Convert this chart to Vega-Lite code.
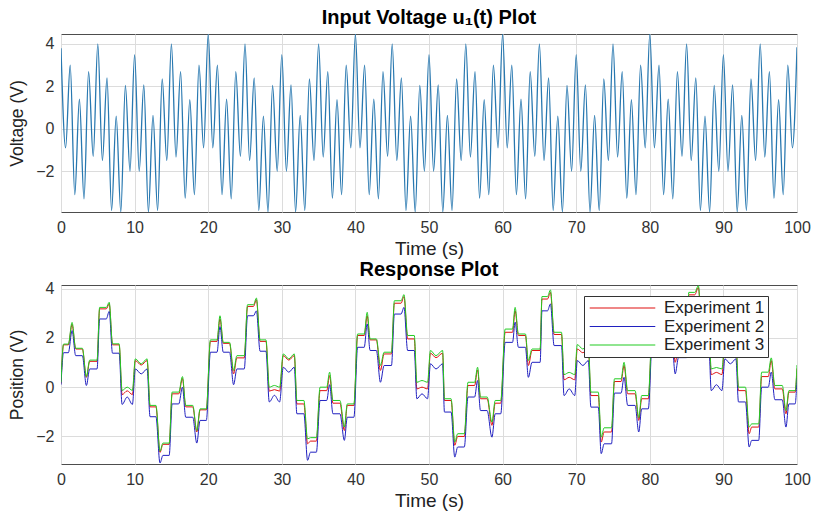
{
  "$schema": "https://vega.github.io/schema/vega-lite/v6.json",
  "background": "white",
  "padding": {"left": 8, "top": 7, "right": 16, "bottom": 0},
  "spacing": 0,
  "resolve": {"scale": {"color": "independent"}, "legend": {"color": "independent"}},
  "config": {
    "font": "Liberation Sans",
    "view": {"stroke": "#4d4d4d", "strokeWidth": 1},
    "axis": {"grid": true, "gridColor": "#dcdcdc", "domain": false, "ticks": false, "labelFontSize": 16, "labelColor": "#333333", "titleFontWeight": "normal", "titleColor": "#222222", "labelPadding": 7, "labelFlush": false},
    "axisY": {"titlePadding": 9, "titleFontSize": 17.5},
    "axisX": {"titlePadding": 4, "titleFontSize": 19},
    "title": {"fontSize": 20, "fontWeight": "bold", "color": "#000000", "offset": 6}
  },
  "vconcat": [
    {
      "width": 736,
      "height": 178,
      "title": {"text": "Input Voltage u₁(t) Plot"},
      "data": {"values": [
        {"t":0,"v":3.8},{"t":0.625,"v":-0.9},{"t":1.25,"v":3.0},{"t":1.875,"v":-3.1},{"t":2.5,"v":1.4},{"t":3.125,"v":-3.3},{"t":3.75,"v":2.7},{"t":4.375,"v":-1.3},{"t":5,"v":4.0},{"t":5.625,"v":-1.5},{"t":6.25,"v":2.4},{"t":6.875,"v":-3.85},{"t":7.5,"v":0.6},{"t":8.125,"v":-3.92},{"t":8.75,"v":2.05},{"t":9.375,"v":-2.0},{"t":10,"v":3.5},{"t":10.625,"v":-2.0},{"t":11.25,"v":2.07},{"t":11.875,"v":-3.92},{"t":12.5,"v":0.63},{"t":13.125,"v":-3.85},{"t":13.75,"v":2.35},{"t":14.375,"v":-1.5},{"t":15,"v":4.0},{"t":15.625,"v":-1.33},{"t":16.25,"v":2.7},{"t":16.875,"v":-3.27},{"t":17.5,"v":1.37},{"t":18.125,"v":-3.1},{"t":18.75,"v":3.0},{"t":19.375,"v":-0.9},
        {"t":20,"v":4.47},{"t":20.625,"v":-0.9},{"t":21.25,"v":3.0},{"t":21.875,"v":-3.1},{"t":22.5,"v":1.4},{"t":23.125,"v":-3.3},{"t":23.75,"v":2.7},{"t":24.375,"v":-1.3},{"t":25,"v":4.0},{"t":25.625,"v":-1.5},{"t":26.25,"v":2.4},{"t":26.875,"v":-3.85},{"t":27.5,"v":0.6},{"t":28.125,"v":-3.92},{"t":28.75,"v":2.05},{"t":29.375,"v":-2.0},{"t":30,"v":3.5},{"t":30.625,"v":-2.0},{"t":31.25,"v":2.07},{"t":31.875,"v":-3.92},{"t":32.5,"v":0.63},{"t":33.125,"v":-3.85},{"t":33.75,"v":2.35},{"t":34.375,"v":-1.5},{"t":35,"v":4.0},{"t":35.625,"v":-1.33},{"t":36.25,"v":2.7},{"t":36.875,"v":-3.27},{"t":37.5,"v":1.37},{"t":38.125,"v":-3.1},{"t":38.75,"v":3.0},{"t":39.375,"v":-0.9},
        {"t":40,"v":4.47},{"t":40.625,"v":-0.9},{"t":41.25,"v":3.0},{"t":41.875,"v":-3.1},{"t":42.5,"v":1.4},{"t":43.125,"v":-3.3},{"t":43.75,"v":2.7},{"t":44.375,"v":-1.3},{"t":45,"v":4.0},{"t":45.625,"v":-1.5},{"t":46.25,"v":2.4},{"t":46.875,"v":-3.85},{"t":47.5,"v":0.6},{"t":48.125,"v":-3.92},{"t":48.75,"v":2.05},{"t":49.375,"v":-2.0},{"t":50,"v":3.5},{"t":50.625,"v":-2.0},{"t":51.25,"v":2.07},{"t":51.875,"v":-3.92},{"t":52.5,"v":0.63},{"t":53.125,"v":-3.85},{"t":53.75,"v":2.35},{"t":54.375,"v":-1.5},{"t":55,"v":4.0},{"t":55.625,"v":-1.33},{"t":56.25,"v":2.7},{"t":56.875,"v":-3.27},{"t":57.5,"v":1.37},{"t":58.125,"v":-3.1},{"t":58.75,"v":3.0},{"t":59.375,"v":-0.9},
        {"t":60,"v":4.47},{"t":60.625,"v":-0.9},{"t":61.25,"v":3.0},{"t":61.875,"v":-3.1},{"t":62.5,"v":1.4},{"t":63.125,"v":-3.3},{"t":63.75,"v":2.7},{"t":64.375,"v":-1.3},{"t":65,"v":4.0},{"t":65.625,"v":-1.5},{"t":66.25,"v":2.4},{"t":66.875,"v":-3.85},{"t":67.5,"v":0.6},{"t":68.125,"v":-3.92},{"t":68.75,"v":2.05},{"t":69.375,"v":-2.0},{"t":70,"v":3.5},{"t":70.625,"v":-2.0},{"t":71.25,"v":2.07},{"t":71.875,"v":-3.92},{"t":72.5,"v":0.63},{"t":73.125,"v":-3.85},{"t":73.75,"v":2.35},{"t":74.375,"v":-1.5},{"t":75,"v":4.0},{"t":75.625,"v":-1.33},{"t":76.25,"v":2.7},{"t":76.875,"v":-3.27},{"t":77.5,"v":1.37},{"t":78.125,"v":-3.1},{"t":78.75,"v":3.0},{"t":79.375,"v":-0.9},
        {"t":80,"v":4.47},{"t":80.625,"v":-0.9},{"t":81.25,"v":3.0},{"t":81.875,"v":-3.1},{"t":82.5,"v":1.4},{"t":83.125,"v":-3.3},{"t":83.75,"v":2.7},{"t":84.375,"v":-1.3},{"t":85,"v":4.0},{"t":85.625,"v":-1.5},{"t":86.25,"v":2.4},{"t":86.875,"v":-3.85},{"t":87.5,"v":0.6},{"t":88.125,"v":-3.92},{"t":88.75,"v":2.05},{"t":89.375,"v":-2.0},{"t":90,"v":3.5},{"t":90.625,"v":-2.0},{"t":91.25,"v":2.07},{"t":91.875,"v":-3.92},{"t":92.5,"v":0.63},{"t":93.125,"v":-3.85},{"t":93.75,"v":2.35},{"t":94.375,"v":-1.5},{"t":95,"v":4.0},{"t":95.625,"v":-1.33},{"t":96.25,"v":2.7},{"t":96.875,"v":-3.27},{"t":97.5,"v":1.37},{"t":98.125,"v":-3.1},{"t":98.75,"v":3.0},{"t":99.375,"v":-0.9},
        {"t":100,"v":3.85}
      ]},
      "mark": {"type": "line", "interpolate": "monotone", "strokeWidth": 1.3, "color": "#2878b0", "clip": true},
      "encoding": {
        "x": {"field": "t", "type": "quantitative", "scale": {"domain": [0, 100], "nice": false}, "axis": {"values": [0,10,20,30,40,50,60,70,80,90,100], "title": "Time (s)"}},
        "y": {"field": "v", "type": "quantitative", "scale": {"domain": [-3.92, 4.47], "nice": false, "zero": false}, "axis": {"values": [-2,0,2,4], "title": "Voltage (V)"}}
      }
    },
    {
      "width": 736,
      "height": 179,
      "title": {"text": "Response Plot", "offset": 1},
      "data": {"values": [
        {"t":0,"a":0.15,"b":0.1,"c":0.2},{"t":0.35,"a":1.72,"b":1.4,"c":1.75},{"t":1.0,"a":1.72,"b":1.4,"c":1.75},{"t":1.5,"a":2.55,"b":2.3,"c":2.63},{"t":2.0,"a":1.55,"b":1.28,"c":1.58},{"t":2.9,"a":1.55,"b":1.28,"c":1.58},{"t":3.45,"a":0.4,"b":0.07,"c":0.43},{"t":3.9,"a":1.05,"b":0.74,"c":1.1},{"t":4.9,"a":1.05,"b":0.74,"c":1.1},{"t":5.25,"a":3.18,"b":2.77,"c":3.24},{"t":6.15,"a":3.18,"b":2.77,"c":3.24},{"t":6.55,"a":3.38,"b":3.08,"c":3.45},{"t":7.0,"a":1.72,"b":1.38,"c":1.76},{"t":7.9,"a":1.72,"b":1.38,"c":1.76},{"t":8.3,"a":-0.3,"b":-0.7,"c":-0.13},{"t":9.0,"a":-0.15,"b":-0.4,"c":0.0},{"t":9.7,"a":-0.3,"b":-0.7,"c":-0.13},{"t":10.1,"a":1.08,"b":0.74,"c":1.15},{"t":10.9,"a":0.9,"b":0.54,"c":0.95},{"t":11.7,"a":1.08,"b":0.74,"c":1.15},{"t":12.1,"a":-0.8,"b":-1.2,"c":-0.74},{"t":12.9,"a":-0.8,"b":-1.2,"c":-0.74},{"t":13.45,"a":-2.65,"b":-3.08,"c":-2.6},{"t":13.85,"a":-2.32,"b":-2.77,"c":-2.27},{"t":14.7,"a":-2.32,"b":-2.77,"c":-2.27},{"t":15.1,"a":-0.27,"b":-0.68,"c":-0.2},{"t":16.0,"a":-0.27,"b":-0.68,"c":-0.2},{"t":16.5,"a":0.35,"b":0.0,"c":0.43},{"t":16.95,"a":-0.8,"b":-1.22,"c":-0.74},{"t":17.9,"a":-0.8,"b":-1.22,"c":-0.74},{"t":18.45,"a":-1.82,"b":-2.27,"c":-1.76},{"t":18.9,"a":-0.92,"b":-1.35,"c":-0.88},{"t":19.75,"a":-0.92,"b":-1.35,"c":-0.88},
        {"t":20.3,"a":1.86,"b":1.42,"c":1.92},{"t":21.2,"a":1.86,"b":1.42,"c":1.92},{"t":21.6,"a":2.77,"b":2.46,"c":2.9},{"t":22.05,"a":1.78,"b":1.42,"c":1.82},{"t":22.9,"a":1.78,"b":1.42,"c":1.82},{"t":23.45,"a":0.54,"b":0.1,"c":0.68},{"t":23.9,"a":1.19,"b":0.74,"c":1.28},{"t":24.9,"a":1.19,"b":0.74,"c":1.28},{"t":25.35,"a":3.28,"b":2.9,"c":3.35},{"t":26.15,"a":3.28,"b":2.9,"c":3.35},{"t":26.55,"a":3.55,"b":3.1,"c":3.62},{"t":27.05,"a":1.86,"b":1.46,"c":1.92},{"t":27.85,"a":1.86,"b":1.46,"c":1.92},{"t":28.3,"a":-0.16,"b":-0.6,"c":0.0},{"t":29.0,"a":-0.1,"b":-0.33,"c":0.07},{"t":29.7,"a":-0.16,"b":-0.6,"c":0.0},{"t":30.2,"a":1.28,"b":0.81,"c":1.35},{"t":30.95,"a":1.1,"b":0.61,"c":1.15},{"t":31.7,"a":1.28,"b":0.81,"c":1.35},{"t":32.05,"a":-0.68,"b":-1.08,"c":-0.54},{"t":33.0,"a":-0.68,"b":-1.08,"c":-0.54},{"t":33.5,"a":-2.3,"b":-2.97,"c":-2.1},{"t":33.9,"a":-2.19,"b":-2.64,"c":-2.05},{"t":34.7,"a":-2.19,"b":-2.64,"c":-2.05},{"t":35.2,"a":-0.14,"b":-0.54,"c":0.0},{"t":36.1,"a":-0.14,"b":-0.54,"c":0.0},{"t":36.5,"a":0.47,"b":0.1,"c":0.61},{"t":36.95,"a":-0.65,"b":-1.08,"c":-0.54},{"t":37.9,"a":-0.65,"b":-1.08,"c":-0.54},{"t":38.5,"a":-1.76,"b":-2.16,"c":-1.62},{"t":38.9,"a":-0.74,"b":-1.22,"c":-0.68},{"t":39.8,"a":-0.74,"b":-1.22,"c":-0.68},
        {"t":40.3,"a":2.1,"b":1.62,"c":2.16},{"t":41.2,"a":2.1,"b":1.62,"c":2.16},{"t":41.6,"a":2.9,"b":2.57,"c":3.04},{"t":42.0,"a":1.92,"b":1.49,"c":1.96},{"t":42.85,"a":1.92,"b":1.49,"c":1.96},{"t":43.4,"a":0.68,"b":0.2,"c":0.88},{"t":43.9,"a":1.35,"b":0.88,"c":1.42},{"t":44.9,"a":1.35,"b":0.88,"c":1.42},{"t":45.3,"a":3.41,"b":2.97,"c":3.51},{"t":46.2,"a":3.41,"b":2.97,"c":3.51},{"t":46.6,"a":3.68,"b":3.24,"c":3.76},{"t":47.1,"a":1.96,"b":1.49,"c":2.1},{"t":48.0,"a":1.96,"b":1.49,"c":2.1},{"t":48.35,"a":-0.07,"b":-0.47,"c":0.2},{"t":49.05,"a":0.0,"b":-0.27,"c":0.27},{"t":49.8,"a":-0.07,"b":-0.47,"c":0.2},{"t":50.2,"a":1.38,"b":0.95,"c":1.49},{"t":50.95,"a":1.2,"b":0.74,"c":1.28},{"t":51.85,"a":1.38,"b":0.95,"c":1.49},{"t":52.1,"a":-0.54,"b":-1.01,"c":-0.47},{"t":53.0,"a":-0.54,"b":-1.01,"c":-0.47},{"t":53.5,"a":-2.36,"b":-2.84,"c":-2.23},{"t":53.9,"a":-2.0,"b":-2.43,"c":-1.89},{"t":54.8,"a":-2.0,"b":-2.43,"c":-1.89},{"t":55.3,"a":0.07,"b":-0.4,"c":0.2},{"t":56.2,"a":0.07,"b":-0.4,"c":0.2},{"t":56.6,"a":0.7,"b":0.27,"c":0.81},{"t":57.0,"a":-0.47,"b":-0.95,"c":-0.4},{"t":57.9,"a":-0.47,"b":-0.95,"c":-0.4},{"t":58.55,"a":-1.55,"b":-2.03,"c":-1.42},{"t":59.0,"a":-0.65,"b":-1.08,"c":-0.54},{"t":59.75,"a":-0.65,"b":-1.08,"c":-0.54},
        {"t":60.35,"a":2.23,"b":1.82,"c":2.36},{"t":61.35,"a":2.23,"b":1.82,"c":2.36},{"t":61.7,"a":3.1,"b":2.64,"c":3.24},{"t":62.15,"a":2.1,"b":1.62,"c":2.16},{"t":63.1,"a":2.1,"b":1.62,"c":2.16},{"t":63.5,"a":0.88,"b":0.4,"c":1.08},{"t":64.0,"a":1.49,"b":1.01,"c":1.55},{"t":65.1,"a":1.49,"b":1.01,"c":1.55},{"t":65.35,"a":3.58,"b":3.1,"c":3.68},{"t":66.1,"a":3.58,"b":3.1,"c":3.68},{"t":66.5,"a":3.85,"b":3.38,"c":3.95},{"t":67.0,"a":2.14,"b":1.69,"c":2.23},{"t":68.0,"a":2.14,"b":1.69,"c":2.23},{"t":68.35,"a":0.3,"b":-0.34,"c":0.51},{"t":69.05,"a":0.4,"b":-0.07,"c":0.6},{"t":69.8,"a":0.3,"b":-0.34,"c":0.51},{"t":70.15,"a":1.55,"b":1.08,"c":1.73},{"t":70.9,"a":1.4,"b":0.88,"c":1.55},{"t":71.65,"a":1.55,"b":1.08,"c":1.73},{"t":72.0,"a":-0.34,"b":-0.81,"c":-0.2},{"t":73.0,"a":-0.34,"b":-0.81,"c":-0.2},{"t":73.4,"a":-2.23,"b":-2.7,"c":-2.03},{"t":73.8,"a":-1.82,"b":-2.3,"c":-1.65},{"t":74.8,"a":-1.82,"b":-2.3,"c":-1.65},{"t":75.2,"a":0.23,"b":-0.24,"c":0.34},{"t":76.1,"a":0.23,"b":-0.24,"c":0.34},{"t":76.5,"a":0.88,"b":0.4,"c":1.01},{"t":77.0,"a":-0.27,"b":-0.74,"c":-0.14},{"t":78.0,"a":-0.27,"b":-0.74,"c":-0.14},{"t":78.5,"a":-1.35,"b":-1.82,"c":-1.24},{"t":78.9,"a":-0.47,"b":-0.88,"c":-0.34},{"t":79.8,"a":-0.47,"b":-0.88,"c":-0.34},
        {"t":80.35,"a":2.4,"b":1.95,"c":2.5},{"t":81.3,"a":2.4,"b":1.95,"c":2.5},{"t":81.7,"a":3.3,"b":2.9,"c":3.4},{"t":82.1,"a":2.3,"b":1.85,"c":2.35},{"t":83.0,"a":2.3,"b":1.85,"c":2.35},{"t":83.45,"a":1.01,"b":0.54,"c":1.22},{"t":83.9,"a":1.62,"b":1.2,"c":1.7},{"t":85.0,"a":1.62,"b":1.2,"c":1.7},{"t":85.3,"a":3.75,"b":3.3,"c":3.85},{"t":86.1,"a":3.75,"b":3.3,"c":3.85},{"t":86.6,"a":4.05,"b":3.58,"c":4.12},{"t":87.05,"a":2.3,"b":1.85,"c":2.4},{"t":88.0,"a":2.3,"b":1.85,"c":2.4},{"t":88.35,"a":0.51,"b":-0.14,"c":0.74},{"t":89.05,"a":0.6,"b":0.1,"c":0.8},{"t":89.8,"a":0.51,"b":-0.14,"c":0.74},{"t":90.2,"a":1.75,"b":1.15,"c":1.9},{"t":90.95,"a":1.6,"b":0.95,"c":1.7},{"t":91.7,"a":1.75,"b":1.15,"c":1.9},{"t":92.05,"a":-0.14,"b":-0.6,"c":0.0},{"t":93.0,"a":-0.14,"b":-0.6,"c":0.0},{"t":93.5,"a":-1.89,"b":-2.43,"c":-1.62},{"t":93.85,"a":-1.62,"b":-2.16,"c":-1.49},{"t":94.8,"a":-1.62,"b":-2.16,"c":-1.49},{"t":95.2,"a":0.43,"b":0.0,"c":0.61},{"t":96.1,"a":0.43,"b":0.0,"c":0.61},{"t":96.5,"a":1.08,"b":0.61,"c":1.19},{"t":97.0,"a":-0.07,"b":-0.51,"c":0.07},{"t":98.0,"a":-0.07,"b":-0.51,"c":0.07},{"t":98.5,"a":-1.08,"b":-1.62,"c":-0.95},{"t":98.9,"a":-0.2,"b":-0.68,"c":-0.14},{"t":99.75,"a":-0.2,"b":-0.68,"c":-0.14},{"t":100,"a":0.75,"b":0.4,"c":0.9}
      ]},
      "encoding": {
        "x": {"field": "t", "type": "quantitative", "scale": {"domain": [0, 100], "nice": false}, "axis": {"values": [0,10,20,30,40,50,60,70,80,90,100], "title": "Time (s)"}}
      },
      "layer": [
        {
          "mark": {"type": "line", "interpolate": "monotone", "strokeWidth": 1, "clip": true},
          "encoding": {
            "y": {"field": "a", "type": "quantitative", "title": "Position (V)", "scale": {"domain": [-3.12, 4.15], "nice": false, "zero": false}, "axis": {"values": [-2,0,2,4]}},
            "color": {"datum": "Experiment 1", "type": "nominal", "scale": {"domain": ["Experiment 1", "Experiment 2", "Experiment 3"], "range": ["#e01010", "#2020c0", "#22cc22"]},
              "legend": {"orient": "none", "legendX": 523, "legendY": 11, "title": null, "symbolType": "stroke", "symbolSize": 4300, "symbolStrokeWidth": 1.2, "symbolOffset": 2, "clipHeight": 18, "rowPadding": 0.5, "labelFontSize": 17, "labelColor": "#222222", "fillColor": "white", "strokeColor": "#333333", "padding": 3, "labelOffset": 8}}
          }
        },
        {
          "mark": {"type": "line", "interpolate": "monotone", "strokeWidth": 1, "clip": true},
          "encoding": {
            "y": {"field": "b", "type": "quantitative", "title": "Position (V)"},
            "color": {"datum": "Experiment 2", "type": "nominal"}
          }
        },
        {
          "mark": {"type": "line", "interpolate": "monotone", "strokeWidth": 1, "clip": true},
          "encoding": {
            "y": {"field": "c", "type": "quantitative", "title": "Position (V)"},
            "color": {"datum": "Experiment 3", "type": "nominal"}
          }
        }
      ]
    }
  ]
}
